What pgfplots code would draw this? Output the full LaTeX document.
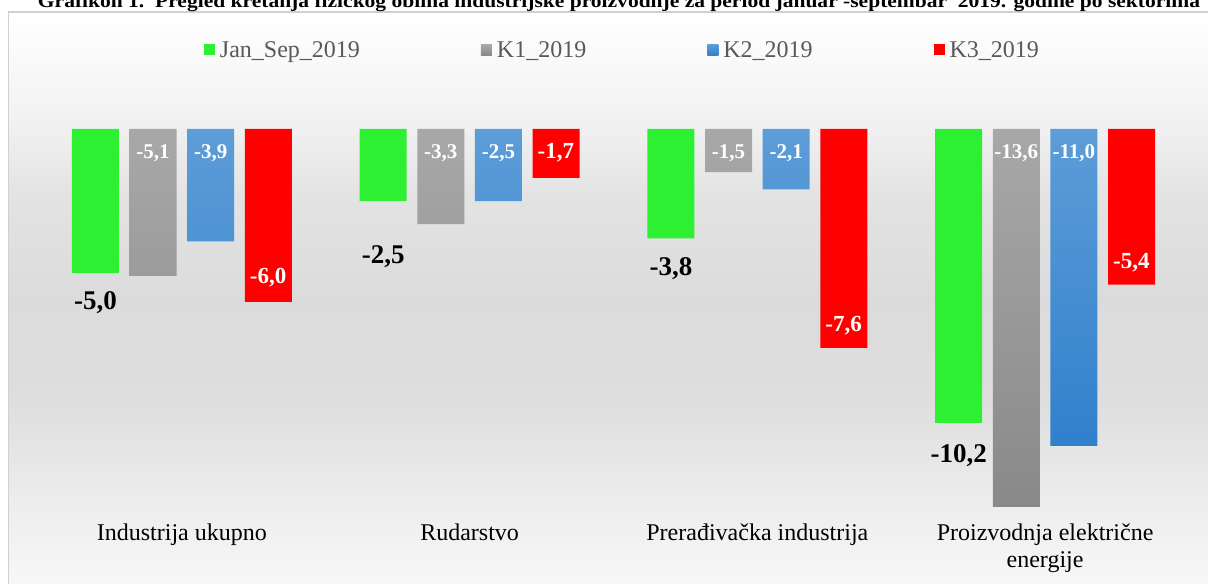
\documentclass[border=0pt]{standalone}
\usepackage{pgfplots}
\usepackage{pgfplotstable}
\pgfplotsset{compat=1.18}
\usepackage{fontspec}
\setmainfont{Liberation Serif}

\definecolor{cgreen}{HTML}{2EF032}
\definecolor{cred}{HTML}{FF0000}
\definecolor{cgrayT}{HTML}{A8A8A8}
\definecolor{cgrayB}{HTML}{888888}
\definecolor{cblueT}{HTML}{5D9DD8}
\definecolor{cblueB}{HTML}{3180CC}
\definecolor{legtext}{HTML}{595959}
\definecolor{framec}{HTML}{D0D0D0}

\pgfdeclareverticalshading{bgshade}{100bp}{color(0bp)=(white!97!black); color(25bp)=(white!97!black); color(32bp)=(white!93!black); color(41bp)=(white!87!black); color(50bp)=(white!86!black); color(59bp)=(white!89!black); color(66bp)=(white!95!black); color(75bp)=(white); color(100bp)=(white)}

\pgfplotstableread{
x y lab ly
0 -5.0 -5,0 -6.01
1 -2.5 -2,5 -4.44
2 -3.8 -3,8 -4.83
3 -10.2 -10,2 -11.32
}\jansep
\pgfplotstableread{
x y lab ly
0 -5.1 -5,1 -0.83
1 -3.3 -3,3 -0.83
2 -1.5 -1,5 -0.83
3 -13.6 -13,6 -0.83
}\kone
\pgfplotstableread{
x y lab ly
0 -3.9 -3,9 -0.83
1 -2.5 -2,5 -0.83
2 -2.1 -2,1 -0.83
3 -11.0 -11,0 -0.83
}\ktwo
\pgfplotstableread{
x y lab ly
0 -6.0 -6,0 -5.17
1 -1.7 -1,7 -0.83
2 -7.6 -7,6 -6.81
3 -5.4 -5,4 -4.65
}\kthree

\begin{document}
\begin{tikzpicture}
\useasboundingbox (0,0) rectangle (1208bp,584bp);
\shade[shading=bgshade] (9bp,0) rectangle (1208bp,571bp);
\draw[framec, line width=1.5bp] (8.5bp,0) -- (8.5bp,572bp) -- (1210bp,572bp);
\node[anchor=base, inner sep=0pt] at (619bp,576bp) {\resizebox{1162bp}{\height}{\fontsize{19bp}{22bp}\selectfont\bfseries Grafikon 1.~~Pregled kretanja fizičkog obima industrijske proizvodnje za period januar -septembar~~2019. godine po sektorima}};
\begin{axis}[
  at={(38bp,77bp)}, anchor=south west,
  scale only axis, width=1151bp, height=378bp,
  xmin=-0.5, xmax=3.5, ymin=-13.12, ymax=0,
  axis line style={draw=none},
  ytick=\empty, xtick={0,1,2,3},
  xticklabels={Industrija ukupno, Rudarstvo, Prerađivačka industrija, {Proizvodnja električne\\energije}},
  major tick length=0pt,
  xticklabel style={align=center, font=\fontsize{24bp}{27bp}\selectfont, anchor=north, inner sep=0pt, yshift=-17bp},
  legend columns=4,
  legend style={at={(0.144,1.209)}, anchor=west, draw=none, fill=none, inner sep=0pt,
    font=\fontsize{24bp}{28bp}\selectfont, text=legtext,
    nodes={inner sep=0pt},
    /tikz/every odd column/.append style={column sep=5bp},
    /tikz/every even column/.append style={column sep=121bp}},
  legend image code/.code={\path[#1] (0bp,-5.5bp) rectangle (11bp,5.5bp);},
]
\addplot[ybar, bar width=47bp, bar shift=-86.4bp, draw=none, fill=cgreen] table[x=x,y=y] {\jansep};
\addlegendentry{Jan\_Sep\_2019}
\addplot[ybar, bar width=47bp, bar shift=-28.8bp, draw=none, top color=cgrayT, bottom color=cgrayB] table[x=x,y=y] {\kone};
\addlegendentry{K1\_2019}
\addplot[ybar, bar width=47bp, bar shift=28.8bp, draw=none, top color=cblueT, bottom color=cblueB] table[x=x,y=y] {\ktwo};
\addlegendentry{K2\_2019}
\addplot[ybar, bar width=47bp, bar shift=86.4bp, draw=none, fill=cred] table[x=x,y=y] {\kthree};
\addlegendentry{K3\_2019}

\addplot[forget plot, draw=none, mark=none, nodes near coords, point meta=explicit symbolic,
  nodes near coords style={anchor=center, inner sep=0pt, text=black, font=\fontsize{27bp}{30bp}\selectfont\bfseries}]
  table[x expr=\thisrow{x}-0.3, y=ly, meta=lab] {\jansep};
\addplot[forget plot, draw=none, mark=none, nodes near coords, point meta=explicit symbolic,
  nodes near coords style={anchor=center, inner sep=0pt, text=white, font=\fontsize{21bp}{24bp}\selectfont\bfseries}]
  table[x expr=\thisrow{x}-0.1, y=ly, meta=lab] {\kone};
\addplot[forget plot, draw=none, mark=none, nodes near coords, point meta=explicit symbolic,
  nodes near coords style={anchor=center, inner sep=0pt, text=white, font=\fontsize{21bp}{24bp}\selectfont\bfseries}]
  table[x expr=\thisrow{x}+0.1, y=ly, meta=lab] {\ktwo};
\addplot[forget plot, draw=none, mark=none, nodes near coords, point meta=explicit symbolic,
  nodes near coords style={anchor=center, inner sep=0pt, text=white, font=\fontsize{23bp}{26bp}\selectfont\bfseries}]
  table[x expr=\thisrow{x}+0.3, y=ly, meta=lab] {\kthree};
\end{axis}
\end{tikzpicture}
\end{document}
